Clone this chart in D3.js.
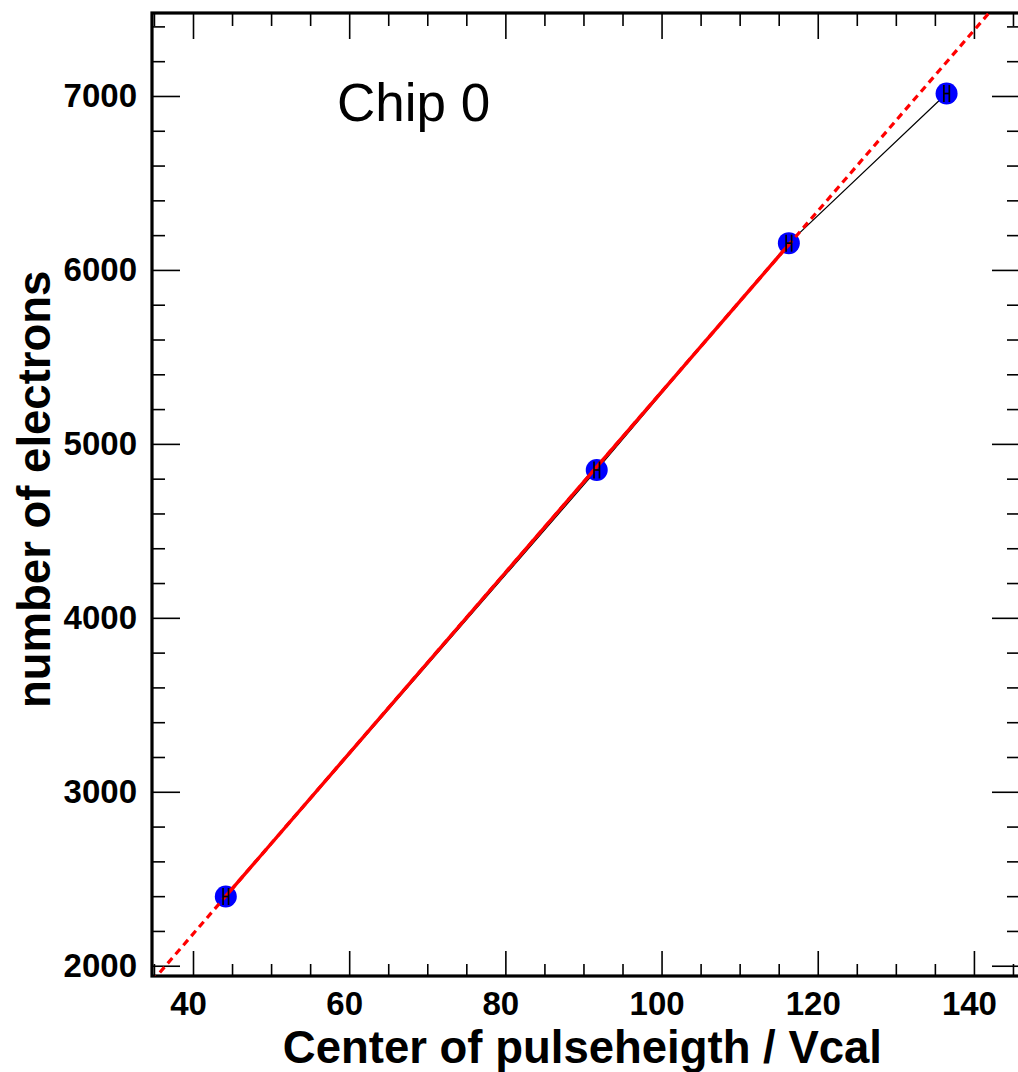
<!DOCTYPE html>
<meta charset="utf-8">
<style>
body { margin: 0; background: #fff; }
svg { display: block; }
.axis path { display: none; }
.axis line { stroke: #000; stroke-width: 1.6px; }
.axis text { font: bold 33px "Liberation Sans", Arial, sans-serif; fill: #000; }
.title { font: bold 45.5px "Liberation Sans", Arial, sans-serif; fill: #000; }
</style>

<svg width="1018" height="1072"></svg>
<script src="https://cdn.jsdelivr.net/npm/d3@7"></script>

<script>

// measured points (Vcal center vs electrons)
var vcal = [44.2, 91.7, 116.3, 136.5];
var electrons = [2398, 4850, 6154, 7014];
var vcalErr = [0.35, 0.35, 0.35, 0.35];

// linear fit, drawn solid over fit range and dashed over whole axis
var fitSlope = 51.95;
var fitOffset = 104;
var fitRange = [44.2, 116.3];

var xMajor = [40, 60, 80, 100, 120, 140];
var yMajor = [2000, 3000, 4000, 5000, 6000, 7000];

var svg = d3.select("svg"),
    margin = {left: 152, right: 1020, top: 13, bottom: 976};

var x = d3.scaleLinear()
    .domain([34.75, 145.9])
    .range([margin.left, margin.right]);

var y = d3.scaleLinear()
    .domain([1941, 7477])
    .range([margin.bottom, margin.top]);

var xMinor = d3.range(35, 146, 5).filter(function(d) { return xMajor.indexOf(d) < 0; });
var yMinor = d3.range(2000, 7477, 200).filter(function(d) { return yMajor.indexOf(d) < 0; });

svg.append("defs").append("clipPath")
    .attr("id", "frame")
  .append("rect")
    .attr("x", margin.left)
    .attr("y", margin.top)
    .attr("width", margin.right - margin.left)
    .attr("height", margin.bottom - margin.top);

// axes: ticks point inward on all four sides
function noLabel() { return ""; }

svg.append("g").attr("class", "axis xlab")
    .attr("transform", "translate(0," + margin.bottom + ")")
    .call(d3.axisBottom(x).tickValues(xMajor).tickSize(-25).tickPadding(15.5).tickFormat(d3.format("d")));
svg.selectAll(".xlab text").attr("dx", -5);
svg.append("g").attr("class", "axis")
    .attr("transform", "translate(0," + margin.bottom + ")")
    .call(d3.axisBottom(x).tickValues(xMinor).tickSize(-12).tickFormat(noLabel));
svg.append("g").attr("class", "axis")
    .attr("transform", "translate(0," + margin.top + ")")
    .call(d3.axisTop(x).tickValues(xMajor).tickSize(-26).tickFormat(noLabel));
svg.append("g").attr("class", "axis")
    .attr("transform", "translate(0," + margin.top + ")")
    .call(d3.axisTop(x).tickValues(xMinor).tickSize(-13).tickFormat(noLabel));

svg.append("g").attr("class", "axis")
    .attr("transform", "translate(" + margin.left + ",0)")
    .call(d3.axisLeft(y).tickValues(yMajor).tickSize(-28).tickPadding(15).tickFormat(d3.format("d")));
svg.append("g").attr("class", "axis")
    .attr("transform", "translate(" + margin.left + ",0)")
    .call(d3.axisLeft(y).tickValues(yMinor).tickSize(-13).tickFormat(noLabel));
svg.append("g").attr("class", "axis")
    .attr("transform", "translate(" + margin.right + ",0)")
    .call(d3.axisRight(y).tickValues(yMajor).tickSize(-28).tickFormat(noLabel));
svg.append("g").attr("class", "axis")
    .attr("transform", "translate(" + margin.right + ",0)")
    .call(d3.axisRight(y).tickValues(yMinor).tickSize(-13).tickFormat(noLabel));

svg.selectAll(".axis text").attr("font-size", 33);

// frame
svg.append("rect")
    .attr("x", margin.left)
    .attr("y", margin.top)
    .attr("width", margin.right - margin.left)
    .attr("height", margin.bottom - margin.top)
    .attr("fill", "none")
    .attr("stroke", "#000")
    .attr("stroke-width", 3.2);

var pts = vcal.map(function(d, i) { return {x: d, y: electrons[i], ex: vcalErr[i]}; });

var plot = svg.append("g").attr("clip-path", "url(#frame)");

// graph polyline
plot.append("path")
    .datum(pts)
    .attr("fill", "none")
    .attr("stroke", "#000")
    .attr("stroke-width", 1.2)
    .attr("d", d3.line().x(function(d) { return x(d.x); }).y(function(d) { return y(d.y); }));

// markers
plot.selectAll("circle")
    .data(pts)
    .enter().append("circle")
    .attr("cx", function(d) { return x(d.x); })
    .attr("cy", function(d) { return y(d.y); })
    .attr("r", 11)
    .attr("fill", "#0000ff");

// fit function
function fit(v) { return fitOffset + fitSlope * v; }
var fitLine = d3.line().x(function(d) { return x(d); }).y(function(d) { return y(fit(d)); });

plot.append("path")
    .datum(x.domain())
    .attr("fill", "none")
    .attr("stroke", "#ff0000")
    .attr("stroke-width", 3.2)
    .attr("stroke-dasharray", "7,5")
    .attr("d", fitLine);

plot.append("path")
    .datum(fitRange)
    .attr("fill", "none")
    .attr("stroke", "#ff0000")
    .attr("stroke-width", 3.4)
    .attr("d", fitLine);

// error bars with end caps
var err = plot.selectAll(".err")
    .data(pts)
    .enter().append("g")
    .attr("class", "err")
    .attr("stroke", "#000")
    .attr("stroke-width", 1.7);

err.append("line")
    .attr("x1", function(d) { return x(d.x - d.ex); })
    .attr("x2", function(d) { return x(d.x + d.ex); })
    .attr("y1", function(d) { return y(d.y); })
    .attr("y2", function(d) { return y(d.y); });
err.append("line")
    .attr("x1", function(d) { return x(d.x - d.ex); })
    .attr("x2", function(d) { return x(d.x - d.ex); })
    .attr("y1", function(d) { return y(d.y) - 8.5; })
    .attr("y2", function(d) { return y(d.y) + 8.5; });
err.append("line")
    .attr("x1", function(d) { return x(d.x + d.ex); })
    .attr("x2", function(d) { return x(d.x + d.ex); })
    .attr("y1", function(d) { return y(d.y) - 8.5; })
    .attr("y2", function(d) { return y(d.y) + 8.5; });

// labels
svg.append("text")
    .attr("x", 337)
    .attr("y", 121)
    .attr("font-family", "'Liberation Sans', Arial, sans-serif")
    .attr("font-size", 53)
    .text("Chip 0");

svg.append("text")
    .attr("class", "title")
    .attr("x", 882)
    .attr("y", 1063)
    .attr("text-anchor", "end")
    .text("Center of pulseheigth / Vcal");

svg.append("text")
    .attr("class", "title")
    .attr("transform", "translate(50,708) rotate(-90)")
    .attr("font-size", 48)
    .text("number of electrons");

</script>
